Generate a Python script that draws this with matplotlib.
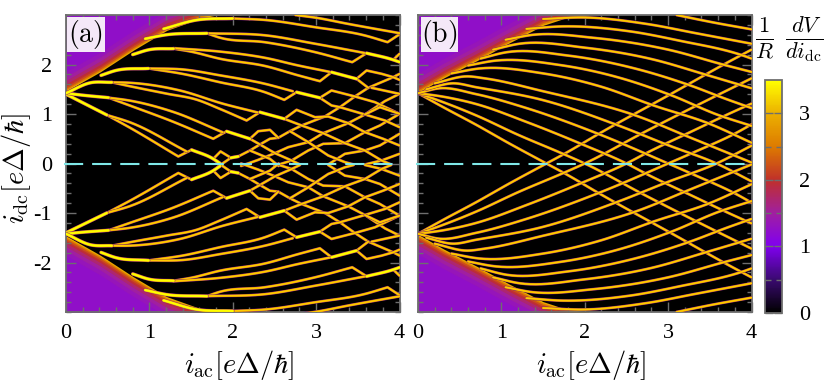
import numpy as np
import matplotlib
matplotlib.use("Agg")
import matplotlib.pyplot as plt
from matplotlib.colors import LinearSegmentedColormap
from matplotlib.cm import ScalarMappable
from matplotlib.colors import Normalize
from matplotlib.patches import Rectangle

plt.rcParams['font.family'] = ['Liberation Serif', 'DejaVu Serif']
plt.rcParams['mathtext.fontset'] = 'cm'

# colour scale
cbar_vals = [0, 0.5, 1.0, 1.5, 2.0, 2.5, 3.0, 3.5]
cbar_cols = ['#000000', '#3a0a70', '#8000f0', '#a01fa0', '#c0302a', '#dd7a00', '#ecb000', '#ffff00']
cbar_ticks = [0, 1, 2, 3]
cbar_minor = [0.5, 1.5, 2.5]

# edge of the purple region, upper half
wedge_a_x = [0, 0.41, 0.81, 1.21, 1.61, 1.81, 2.1]
wedge_a_y = [1.46, 1.85, 2.29, 2.69, 2.93, 3.0, 3.0]
wedge_b_x = [0, 0.3, 0.71, 1.10, 1.5, 1.79, 2.05]
wedge_b_y = [1.43, 1.72, 2.08, 2.44, 2.79, 2.95, 3.0]

# panel (b), falling curves of the upper half
b_curves = [
    [(0, 1.42), (0.3, 1.14), (0.7, 0.78), (1.1, 0.40), (1.54, 0), (1.76, -0.2), (2.2, -0.63), (3.05, -1.42), (3.7, -2.03), (4, -2.30)],
    [(0, 1.42), (0.3, 1.24), (0.7, 0.97), (1.2, 0.58), (1.76, 0.18), (2, 0), (2.71, -0.63), (3.4, -1.22), (4, -1.72)],
    [(0, 1.42), (0.3, 1.35), (0.7, 1.2), (1.3, 0.84), (1.98, 0.38), (2.5, 0), (2.75, -0.22), (3.26, -0.63), (3.75, -1.02), (4, -1.21)],
    [(0, 1.42), (0.26, 1.52), (0.7, 1.40), (1.3, 1.12), (2.19, 0.58), (3.0, 0), (3.3, -0.22), (3.83, -0.63), (4, -0.79)],
    [(0.1, 1.5), (0.42, 1.62), (0.7, 1.54), (1.5, 1.28), (2.4, 0.77), (3.0, 0.37), (3.58, 0), (4, -0.36)],
    [(0.2, 1.62), (0.59, 1.76), (0.8, 1.72), (1.5, 1.46), (2.61, 0.97), (3.3, 0.5), (4, 0.02)],
    [(0.4, 1.82), (0.74, 1.92), (1.5, 1.82), (2.2, 1.55), (2.83, 1.17), (3.5, 0.80), (4, 0.42)],
    [(0.6, 1.98), (0.94, 2.08), (1.7, 1.99), (2.4, 1.74), (3.05, 1.37), (3.6, 0.98), (4, 0.76)],
    [(0.75, 2.12), (1.07, 2.25), (1.8, 2.18), (2.6, 1.92), (3.26, 1.58), (3.7, 1.3), (4, 1.12)],
    [(0.9, 2.3), (1.22, 2.42), (2, 2.34), (2.8, 2.11), (3.48, 1.78), (4, 1.52)],
    [(1.05, 2.5), (1.38, 2.6), (2.1, 2.54), (3, 2.30), (3.7, 1.98), (4, 1.85)],
    [(1.3, 2.72), (1.74, 2.77), (2.54, 2.67), (3.14, 2.48), (3.9, 2.18), (4, 2.12)],
    [(1.5, 2.92), (2.0, 2.95), (2.74, 2.82), (3.34, 2.63), (4, 2.42)],
    [(3.1, 3.0), (3.54, 2.85), (4, 2.71)],
]

# panel (a), upper half: pairs of curves, each pair ends in a kink
a_lines = [
    [(0.49, 0.98), (0.77, 0.72), (1.347, 0.142), (1.506, 0.276)],
    [(0.49, 0.98), (0.77, 0.83), (1.45, 0.24)],
    [(0.51, 1.33), (0.767, 1.17), (1.29, 0.84), (1.766, 0.50), (1.926, 0.65)],
    [(0.51, 1.33), (0.767, 1.27), (1.29, 1.04), (1.88, 0.63)],
    [(0.55, 1.64), (0.77, 1.56), (1.21, 1.41), (1.566, 1.29), (1.85, 1.10), (2.166, 0.869), (2.326, 1.037)],
    [(0.55, 1.64), (0.77, 1.63), (1.366, 1.475), (1.886, 1.206), (2.30, 1.03)],
    [(0.99, 1.92), (1.4, 1.81), (1.85, 1.64), (2.386, 1.44), (2.618, 1.286), (2.766, 1.441)],
    [(0.99, 1.92), (1.4, 1.9), (1.85, 1.78), (2.386, 1.61), (2.72, 1.46)],
    [(1.29, 2.32), (1.5, 2.26), (1.85, 2.115), (2.386, 1.97), (2.786, 1.78), (3.045, 1.663), (3.185, 1.845)],
    [(1.29, 2.33), (1.85, 2.26), (2.386, 2.135), (2.786, 1.98), (3.165, 1.85)],
    [(1.69, 2.63), (1.85, 2.54), (2.386, 2.45), (2.986, 2.25), (3.433, 2.047), (3.605, 2.229)],
    [(1.69, 2.63), (2.386, 2.59), (2.986, 2.42), (3.59, 2.23)],
    [(2.0, 2.93), (2.386, 2.90), (2.986, 2.754), (3.585, 2.586), (3.857, 2.451), (3.997, 2.606)],
    [(2.75, 3.0), (3.005, 2.943), (3.385, 2.82), (4, 2.633)],
]

# bright stretches: before the pairs split and after each kink
a_thick = [
    [(0, 1.4), (0.49, 0.98)],
    [(0, 1.42), (0.2, 1.38), (0.51, 1.33)],
    [(0, 1.42), (0.29, 1.63), (0.55, 1.64)],
    [(0.42, 1.78), (0.6, 1.88), (0.99, 1.92)],
    [(0.8, 2.2), (1.0, 2.3), (1.29, 2.32)],
    [(0.95, 2.52), (1.2, 2.6), (1.69, 2.63)],
    [(1.17, 2.72), (1.57, 2.9), (2.0, 2.93)],
    [(1.506, 0.276), (1.766, 0.094), (1.85, 0.0)],
    [(1.926, 0.65), (2.206, 0.499)],
    [(2.326, 1.037), (2.618, 0.902)],
    [(2.766, 1.441), (3.045, 1.327)],
    [(3.185, 1.845), (3.485, 1.71)],
    [(3.605, 2.229), (3.925, 2.094), (4, 2.05)],
    [(1.978, 0.115), (2.066, 0.142)],
]

# panel (a), the mesh where rising and falling curves meet
a_mesh = [
    [(1.766, 0.094), (1.854, 0.243), (1.978, 0.115), (1.854, -0.027), (1.766, 0.094)],
    [(1.978, 0.115), (2.066, 0.142), (2.206, 0.263), (2.326, 0.384), (2.446, 0.50), (2.546, 0.519), (2.686, 0.653), (2.826, 0.768), (3.105, 0.95), (3.285, 1.138), (3.465, 1.354), (3.625, 1.529), (3.925, 1.744), (4, 1.81)],
    [(2.10, -0.05), (2.3, 0.07), (2.506, 0.209), (2.666, 0.33), (2.906, 0.431), (3.085, 0.613), (3.385, 0.815), (3.585, 0.99), (3.825, 1.26), (4, 1.407)],
    [(2.5, -0.05), (2.706, 0.061), (2.906, 0.263), (3.085, 0.397), (3.345, 0.411), (3.585, 0.633), (3.765, 0.768), (4, 1.003)],
    [(3.145, -0.02), (3.345, 0.195), (3.585, 0.263), (3.765, 0.364), (4, 0.599)],
    [(3.585, -0.02), (3.785, 0.061), (4, 0.195)],
    [(2.618, 0.902), (2.826, 0.768), (3.085, 0.613), (3.345, 0.411), (3.585, 0.263), (3.785, 0.061), (3.9, -0.02)],
    [(2.618, 0.902), (2.766, 1.084), (2.986, 0.936), (3.145, 0.95), (3.385, 0.815), (3.585, 0.633), (3.805, 0.498), (4, 0.364)],
    [(3.045, 1.327), (3.185, 1.172), (3.285, 1.138), (3.585, 0.99), (3.825, 0.869), (4, 0.734)],
    [(3.045, 1.327), (3.185, 1.475), (3.465, 1.354), (3.705, 1.239), (4, 1.003)],
    [(2.686, 0.653), (2.906, 0.431), (3.145, 0.162), (3.345, 0.027), (3.45, -0.02)],
    [(2.206, 0.263), (2.446, 0.094), (2.55, -0.05)],
    [(2.326, 0.384), (2.506, 0.209), (2.706, 0.061), (2.806, -0.02)],
    [(2.206, 0.499), (2.306, 0.653), (2.446, 0.68), (2.546, 0.519)],
    [(2.206, 0.499), (2.326, 0.384)],
    [(3.665, 1.529), (4, 1.407)],
    [(3.485, 1.71), (3.605, 1.879), (3.785, 1.812), (3.925, 1.744), (4, 1.69)],
    [(3.485, 1.71), (3.625, 1.529)],
    [(3.585, 0.99), (3.765, 1.138), (4, 1.003)],
    [(3.925, 2.094), (4, 2.216)],
]

x_ticks = [0, 1, 2, 3, 4]
y_ticks = [-2, -1, 0, 1, 2]
y_labels = ['-2', '-1', '0', '1', '2']
a_lower_shift = 0.05

cmap = LinearSegmentedColormap.from_list('dv', [(v / 3.5, c) for v, c in zip(cbar_vals, cbar_cols)])
norm = Normalize(0, 3.5)
GRAY = '#6e6e6e'


def rounded(x, y):
    # cubic through the read points, only used to take the corners off a curve
    if len(x) < 3:
        return x, y
    m = np.gradient(y, x)
    xs = np.concatenate([np.linspace(x[i], x[i + 1], 12, endpoint=False) for i in range(len(x) - 1)] + [[x[-1]]])
    i = np.clip(np.searchsorted(x, xs, side='right') - 1, 0, len(x) - 2)
    h = x[i + 1] - x[i]
    t = (xs - x[i]) / h
    ys = ((2 * t**3 - 3 * t**2 + 1) * y[i] + (t**3 - 2 * t**2 + t) * h * m[i]
          + (-2 * t**3 + 3 * t**2) * y[i + 1] + (t**3 - t**2) * h * m[i + 1])
    return xs, ys


def smooth_parts(x, y):
    # split at real kinks, round the pieces between them
    ang = np.arctan2(np.diff(y) * 49.5, np.diff(x) * 83.4)
    cuts = [0] + [i + 1 for i in range(len(ang) - 1) if abs(ang[i + 1] - ang[i]) > np.radians(35)] + [len(x) - 1]
    parts = []
    for a, b in zip(cuts[:-1], cuts[1:]):
        parts.append(rounded(x[a:b + 1], y[a:b + 1]))
    return np.concatenate([p[0] for p in parts]), np.concatenate([p[1] for p in parts])


def draw_curve(ax, pts, sign=1, shift=0.0, bright=False, smooth=True):
    x = np.array([p[0] for p in pts], dtype=float)
    y = np.array([p[1] for p in pts], dtype=float)
    if sign < 0:
        y = -y - shift * np.clip(x / 1.3, 0, 1)
    if smooth:
        x, y = smooth_parts(x, y)
    kw = dict(solid_capstyle='round', solid_joinstyle='round', zorder=3)
    if bright:
        ax.plot(x, y, color='#7a109a', lw=2.6, **kw)
        ax.plot(x, y, color=cmap(norm(3.0)), lw=2.2, **kw)
        ax.plot(x, y, color=cmap(norm(3.5)), lw=1.5, **kw)
    else:
        ax.plot(x, y, color='#6a1090', lw=2.1, **kw)
        ax.plot(x, y, color=cmap(norm(2.7)), lw=1.7, **kw)
        ax.plot(x, y, color='#ffcc00', lw=1.15, **kw)


def draw_wedge(ax, wx, wy):
    # purple area with a red rim towards the black part
    xx = np.array(wx, dtype=float)
    yy = np.array(wy, dtype=float)
    steps = [(0.0, 2.9), (0.03, 2.5), (0.06, 2.2), (0.1, 1.95), (0.15, 1.7), (0.22, 1.5), (0.3, 1.35), (0.4, 1.25)]
    for off, val in steps:
        ax.fill_between(xx, yy + off, 3.2, color=cmap(norm(val)), lw=0, zorder=1)
        ax.fill_between(xx, -yy - off, -3.2, color=cmap(norm(val)), lw=0, zorder=1)


def setup(ax, label, box_left):
    ax.set_facecolor('black')
    ax.set_xlim(0, 4)
    ax.set_ylim(-3, 3)
    ax.set_xticks(x_ticks)
    ax.set_xticks(np.arange(0, 4.01, 0.2), minor=True)
    ax.set_yticks(y_ticks)
    ax.set_yticks(np.arange(-3, 3.01, 0.2), minor=True)
    ax.tick_params(which='major', direction='in', length=7, width=1.0, color=GRAY,
                   top=True, right=True, labelsize=16, pad=9)
    ax.tick_params(axis='y', which='major', pad=10)
    ax.tick_params(which='minor', direction='in', length=3.6, width=1.0, color=GRAY, top=True, right=True)
    for s in ax.spines.values():
        s.set_color(GRAY)
        s.set_linewidth(1.3)
    ax.add_patch(Rectangle((box_left, 2.25), 0.455, 0.71, facecolor='#f4e8f8', edgecolor='none', zorder=6))
    ax.text(box_left + 0.225, 2.6, label, ha='center', va='center', fontsize=20, zorder=7)
    ax.plot([-0.02, 4], [0, 0], color='#7fe8e8', lw=1.5, dashes=(9.2, 4.3), clip_on=False, zorder=8)


W, H = 831, 385
fig = plt.figure(figsize=(W / 100, H / 100), dpi=100)
ax_a = fig.add_axes([66 / W, 1 - 312 / H, 333.5 / W, 297 / H])
ax_b = fig.add_axes([418 / W, 1 - 312 / H, 333.5 / W, 297 / H])
cax = fig.add_axes([765 / W, 1 - 313 / H, 17 / W, 233 / H])

draw_wedge(ax_a, wedge_a_x, wedge_a_y)
draw_wedge(ax_b, wedge_b_x, wedge_b_y)

for c in a_lines:
    draw_curve(ax_a, c)
    draw_curve(ax_a, c, sign=-1, shift=a_lower_shift)
for c in a_mesh:
    draw_curve(ax_a, c, smooth=False)
    draw_curve(ax_a, c, sign=-1, shift=a_lower_shift, smooth=False)
for c in a_thick:
    draw_curve(ax_a, c, bright=True)
    draw_curve(ax_a, c, sign=-1, shift=a_lower_shift, bright=True)

for c in b_curves:
    draw_curve(ax_b, c)
    draw_curve(ax_b, c, sign=-1)

setup(ax_a, r'$\mathrm{(a)}$', 0.012)
setup(ax_b, r'$\mathrm{(b)}$', 0.03)
ax_a.set_yticklabels(y_labels)
ax_b.set_yticklabels([])

fig.text(239 / W, 1 - 365 / H, r'$i_{\mathrm{ac}}[e\Delta/\hbar]$', ha='center', va='center', fontsize=20.5)
fig.text(591 / W, 1 - 365 / H, r'$i_{\mathrm{ac}}[e\Delta/\hbar]$', ha='center', va='center', fontsize=20.5)
fig.text(16 / W, 1 - 168 / H, r'$i_{\mathrm{dc}}[e\Delta/\hbar]$', ha='center', va='center', rotation=90, fontsize=20.5)
fig.text(789 / W, 1 - 40 / H, r'$\frac{1}{R}\ \frac{dV}{di_{\mathrm{dc}}}$', ha='center', va='center', fontsize=23)

cb = fig.colorbar(ScalarMappable(norm=norm, cmap=cmap), cax=cax, ticks=cbar_ticks)
cb.ax.set_yticks(cbar_minor, minor=True)
cb.ax.tick_params(which='major', direction='in', length=6, width=1.0, color=GRAY, labelsize=16, pad=12, left=True, right=True)
cb.ax.tick_params(which='minor', direction='in', length=4, width=1.0, color=GRAY, left=True, right=True)
cb.outline.set_edgecolor(GRAY)
cb.outline.set_linewidth(1.3)

fig.savefig('out.png', dpi=100)
